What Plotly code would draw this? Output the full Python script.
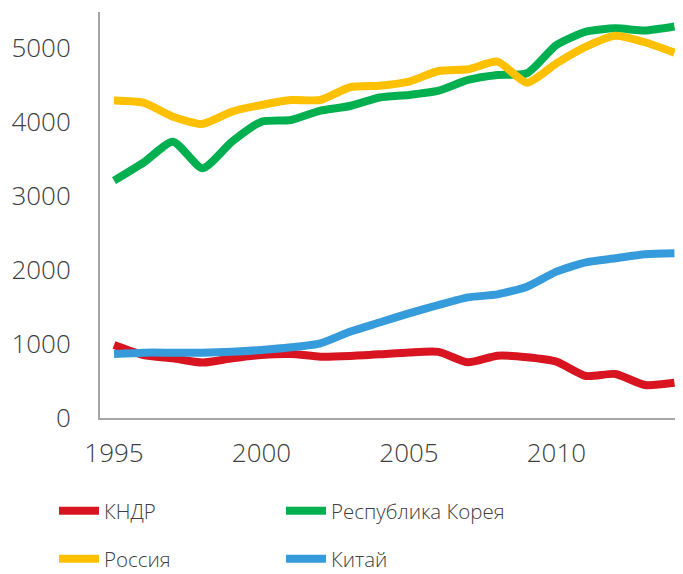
import plotly.graph_objects as go

years = list(range(1995, 2015))
dprk = [986, 851, 806, 750, 806, 851, 865, 829, 838, 860, 885, 893, 752, 842, 820, 761, 568, 595, 446, 477]
korea = [3207, 3450, 3734, 3374, 3734, 4004, 4027, 4153, 4216, 4330, 4365, 4423, 4568, 4635, 4658, 5040, 5220, 5265, 5236, 5290]
russia = [4290, 4260, 4070, 3973, 4140, 4230, 4297, 4297, 4469, 4490, 4545, 4689, 4712, 4815, 4531, 4793, 5018, 5166, 5077, 4937]
china = [865, 883, 883, 883, 896, 919, 955, 1009, 1166, 1290, 1414, 1527, 1630, 1671, 1775, 1978, 2104, 2158, 2212, 2225]

names = ["КНДР", "Республика Корея", "Россия", "Китай"]
series = [dprk, korea, russia, china]
colors = ["#D7141F", "#00B050", "#FFC000", "#359BDB"]
legends = ["legend", "legend2", "legend3", "legend4"]

xticks = [1995, 2000, 2005, 2010]
yticks = [0, 1000, 2000, 3000, 4000, 5000]

tickfont = dict(family="Open Sans", size=26, color="#404040", weight=300)
legfont = dict(family="Open Sans", size=20.5, color="#404040", weight=300)

fig = go.Figure()
for n, s, c, lg in zip(names, series, colors, legends):
    fig.add_trace(go.Scatter(
        x=years, y=s, name=n, mode="lines",
        line=dict(color=c, width=8, shape="spline", smoothing=0.6),
        legend=lg,
    ))

def leg(x, y):
    return dict(orientation="h", xref="container", yref="container",
                x=x, y=y, xanchor="left", yanchor="middle",
                font=legfont, bgcolor="rgba(0,0,0,0)", itemwidth=40)

# page body has an 8px margin, so the figure is 8px smaller and shifted
fig.update_layout(
    width=675, height=566,
    margin=dict(l=92, r=0, t=4, b=156, autoexpand=False),
    paper_bgcolor="white", plot_bgcolor="white",
    font=tickfont,
    showlegend=True,
    legend=leg(0.0681, 0.1113),
    legend2=leg(0.4044, 0.1113),
    legend3=leg(0.0681, 0.0268),
    legend4=leg(0.4044, 0.0268),
    xaxis=dict(range=[1994.525, 2014.29], tickvals=xticks, ticktext=[str(v) for v in xticks],
               showgrid=False, zeroline=False, showline=True, linecolor="#A6A6A6", linewidth=2,
               ticks="", ticklabelstandoff=11, tickfont=tickfont, automargin=False),
    yaxis=dict(range=[0, 5486], tickvals=yticks, ticktext=[str(v) for v in yticks],
               showgrid=False, zeroline=False, showline=True, linecolor="#A6A6A6", linewidth=2,
               ticks="", ticklabelstandoff=22, tickfont=tickfont, automargin=False),
)

fig.write_html("out.html")
